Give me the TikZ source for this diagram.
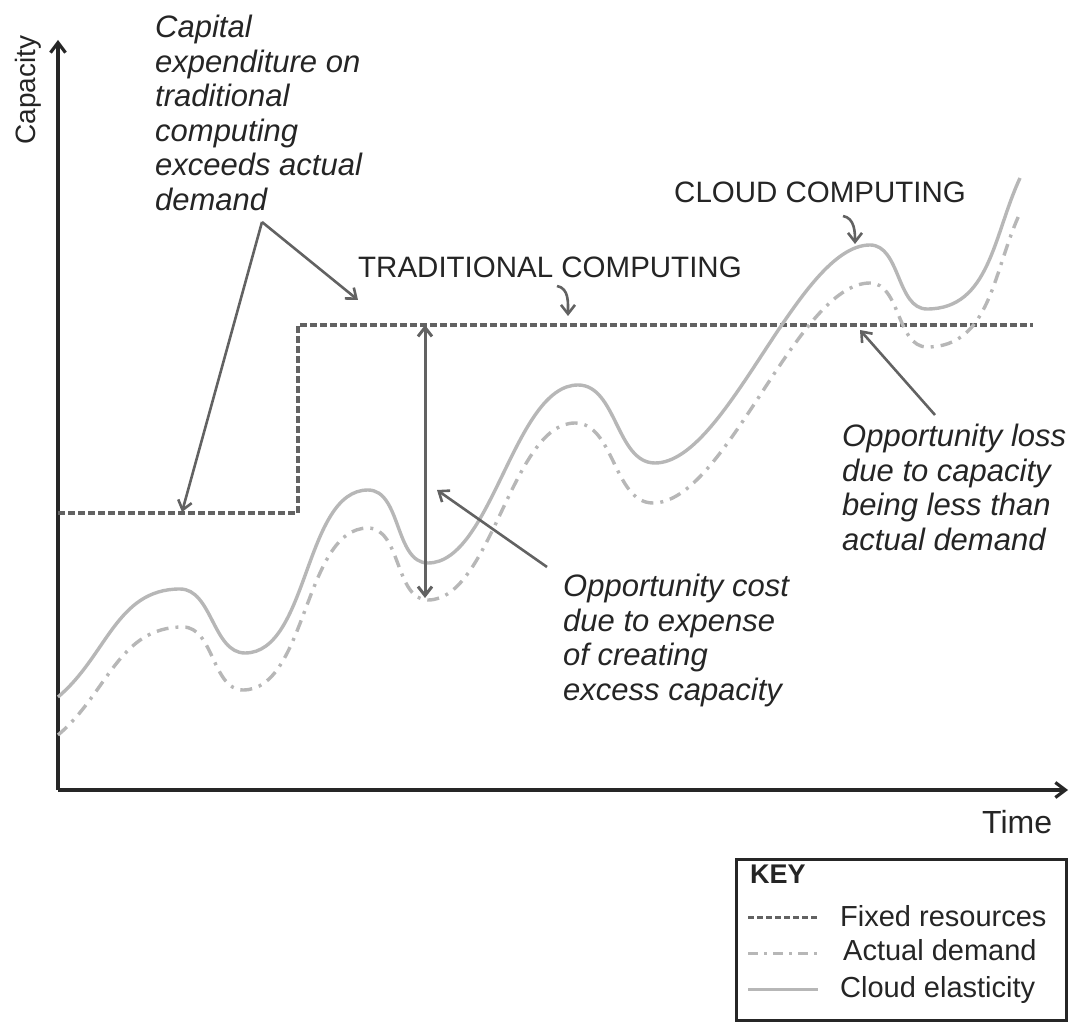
\documentclass[tikz,border=0pt]{standalone}
\usepackage{fontspec}
\setmainfont{Liberation Sans}
\usetikzlibrary{arrows.meta}
\definecolor{textgray}{HTML}{252525}
\definecolor{arrowgray}{HTML}{626262}
\definecolor{curvegray}{HTML}{B7B7B7}
\begin{document}
\begin{tikzpicture}[x=1pt,y=1pt]
    \tikzstyle{axis} = [line width=3.2pt,draw=black!85,-{Straight Barb[length=10pt,width=15pt]}]
    \tikzstyle{arrow} = [line width=2.6pt,draw=arrowgray,-{Straight Barb[length=9pt,width=14pt]}]
    \tikzstyle{fixed} = [line width=3.4pt,draw=arrowgray,dash pattern=on 7pt off 3pt]
    \tikzstyle{demand} = [line width=3.4pt,draw=curvegray,dash pattern=on 12pt off 7pt on 3pt off 7pt]
    \tikzstyle{cloud} = [line width=3.4pt,draw=curvegray]
    \tikzstyle{note} = [inner sep=0pt,align=left,text=textgray,font=\fontsize{31}{34.5}\selectfont\itshape]
    \tikzstyle{caps} = [inner sep=0pt,text=textgray,font=\fontsize{29.5}{34}\selectfont]
    \tikzstyle{keytext} = [inner sep=0pt,anchor=base west,text=textgray,font=\fontsize{29}{34}\selectfont]
    \useasboundingbox (0,0) rectangle (1073,1021);

    % Axes
    \coordinate (Origin) at (58,231);
    \coordinate (YTop) at (58,981);
    \coordinate (XEnd) at (1068,231);
    \draw [axis] (Origin) -- (YTop);
    \draw [axis] (Origin) -- (XEnd);
    \node [caps, rotate=90, font=\fontsize{28}{30}\selectfont] (Capacity) at (28,931) {Capacity};
    \node [caps, anchor=base west, font=\fontsize{32}{34}\selectfont] (Time) at (982,188) {Time};

    % Fixed resources, one step up
    \draw [fixed] (58,508) -- (298,508) -- (298,696) -- (1033,696);

    % Actual demand
    \draw [demand] (58,286) to[out=40,in=180] (183,394)
      to[out=0,in=180,looseness=0.9] (243,331) to[out=0,in=180,looseness=0.8] (368,493)
      to[out=0,in=180,looseness=0.9] (428,421) to[out=0,in=180,looseness=0.7] (575,598)
      to[out=0,in=180,looseness=0.9] (653,518) to[out=0,in=180,looseness=0.6] (870,738)
      to[out=0,in=180,looseness=0.9] (927,674) to[out=0,in=245] (1020,808);

    % Cloud elasticity
    \draw [cloud] (58,324) to[out=40,in=180] (180,432)
      to[out=0,in=180,looseness=0.9] (245,368) to[out=0,in=180,looseness=0.8] (368,531)
      to[out=0,in=180,looseness=0.9] (428,458) to[out=0,in=180,looseness=0.7] (578,636)
      to[out=0,in=180,looseness=0.9] (655,558) to[out=0,in=180,looseness=0.6] (870,776)
      to[out=0,in=180,looseness=0.9] (927,712) to[out=0,in=245] (1020,843);

    % Capital expenditure note, two arrows
    \node [note, anchor=north west] (Capex) at (155,1006)
      {Capital\\expenditure on\\traditional\\computing\\exceeds actual\\demand};
    \coordinate (CapexApex) at (262,799);
    \coordinate (CapexLow) at (182,509);
    \coordinate (CapexHigh) at (358,721);
    \draw [arrow] (CapexApex) -- (CapexLow);
    \draw [arrow] (CapexApex) -- (CapexHigh);

    % Traditional computing label
    \node [caps, anchor=base west] (Traditional) at (358,743) {TRADITIONAL COMPUTING};
    \coordinate (TradFrom) at (557,735);
    \coordinate (TradTo) at (568,705);
    \draw [arrow] (TradFrom) to[out=-10,in=90] (TradTo);

    % Cloud computing label
    \node [caps, anchor=base west] (CloudLabel) at (674,818) {CLOUD COMPUTING};
    \coordinate (CloudFrom) at (843,805);
    \coordinate (CloudTo) at (855,777);
    \draw [arrow] (CloudFrom) to[out=-10,in=90] (CloudTo);

    % Excess capacity, double arrow
    \coordinate (ExcessTop) at (425,696);
    \coordinate (ExcessBottom) at (425,423);
    \draw [arrow, line width=3pt, {Straight Barb[length=9pt,width=14pt]}-{Straight Barb[length=9pt,width=14pt]}] (ExcessBottom) -- (ExcessTop);

    % Opportunity cost note
    \node [note, anchor=north west] (OppCost) at (563,447)
      {Opportunity cost\\due to expense\\of creating\\excess capacity};
    \coordinate (OppCostFrom) at (547,454);
    \coordinate (OppCostTo) at (437,531);
    \draw [arrow] (OppCostFrom) -- (OppCostTo);

    % Opportunity loss note
    \node [note, anchor=north west] (OppLoss) at (842,597)
      {Opportunity loss\\due to capacity\\being less than\\actual demand};
    \coordinate (OppLossFrom) at (935,606);
    \coordinate (OppLossTo) at (860,691);
    \draw [arrow] (OppLossFrom) -- (OppLossTo);

    % Key
    \node [draw=black!85, line width=3pt, inner sep=0pt, minimum width=330pt, minimum height=161pt,
           anchor=north west] (Key) at (735,163) {};
    \node [inner sep=0pt, anchor=base west, text=textgray, font=\fontsize{27}{30}\selectfont\bfseries] (KeyTitle) at (750,138) {KEY};
    \coordinate (FixedA) at (748,104);
    \coordinate (FixedB) at (818,104);
    \draw [fixed, line width=3pt, dash pattern=on 6pt off 3pt] (FixedA) -- (FixedB);
    \node [keytext] (FixedText) at (840,95) {Fixed resources};
    \coordinate (DemandA) at (748,68);
    \coordinate (DemandB) at (818,68);
    \draw [demand, line width=3pt, dash pattern=on 10pt off 6pt on 3pt off 6pt] (DemandA) -- (DemandB);
    \node [keytext] (DemandText) at (843,61) {Actual demand};
    \coordinate (CloudA) at (748,32);
    \coordinate (CloudB) at (818,32);
    \draw [cloud, line width=3pt] (CloudA) -- (CloudB);
    \node [keytext] (CloudText) at (840,24) {Cloud elasticity};
\end{tikzpicture}
\end{document}
